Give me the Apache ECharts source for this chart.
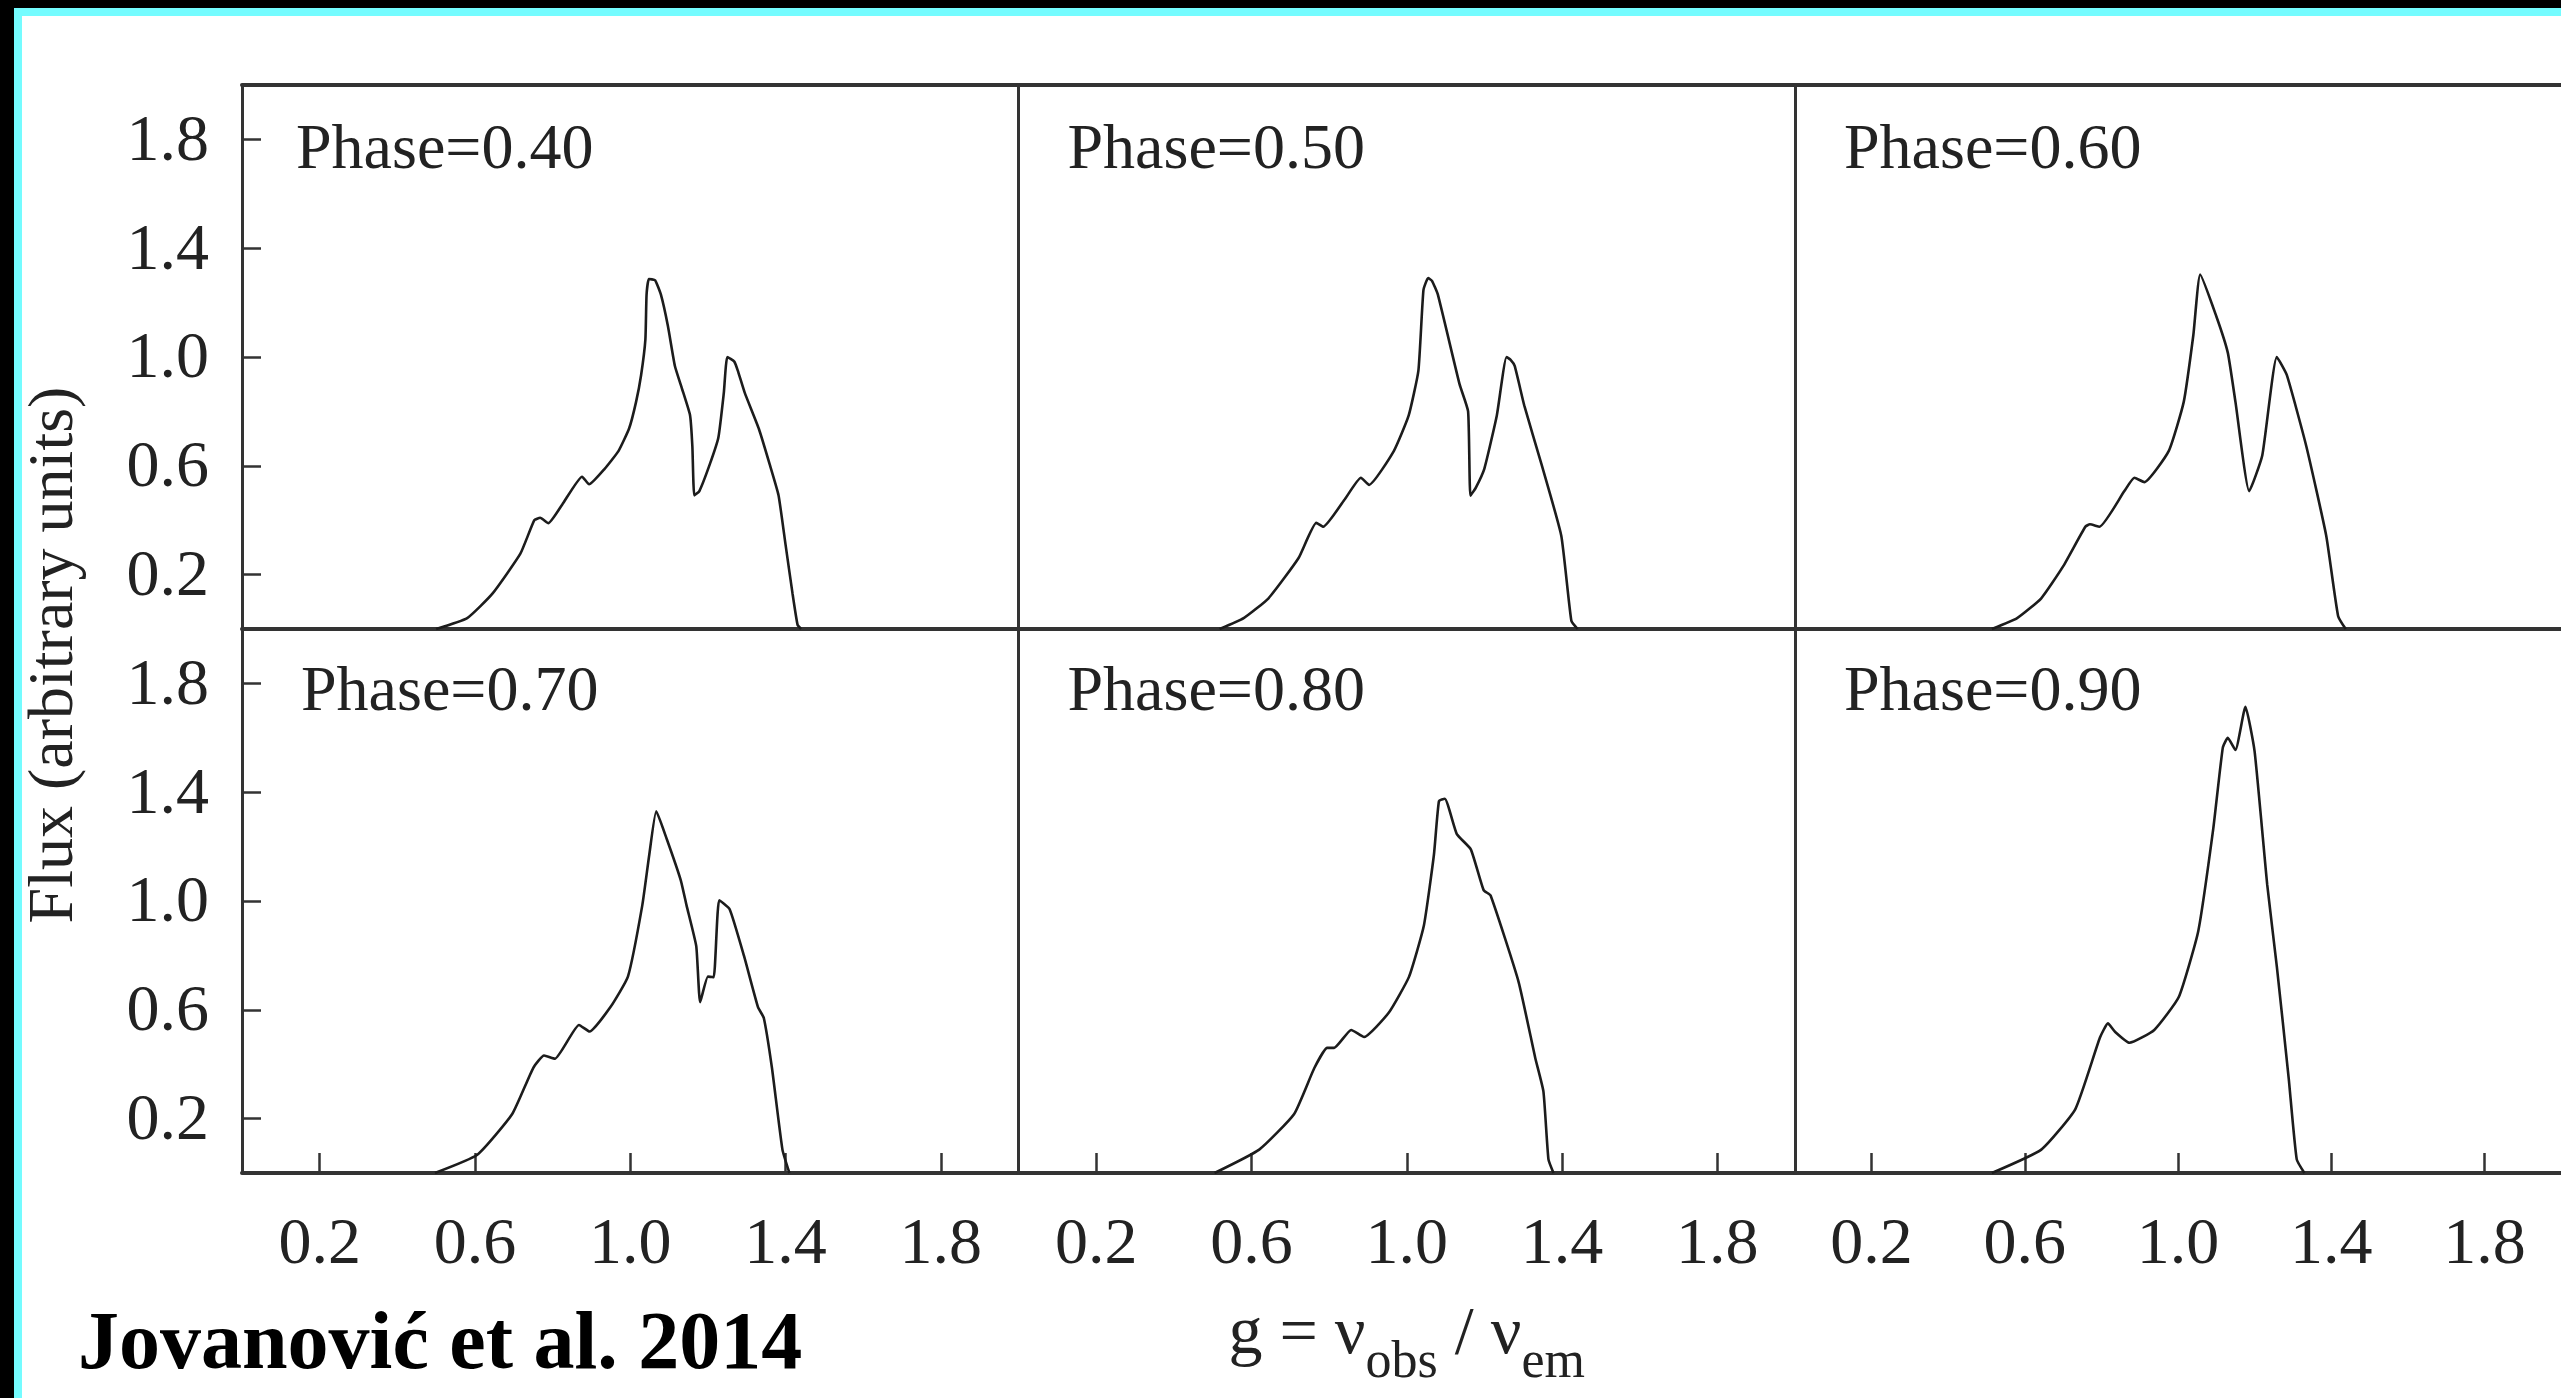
<!DOCTYPE html>
<html>
<head>
<meta charset="utf-8">
<script src="https://cdn.jsdelivr.net/npm/echarts@6/dist/echarts.min.js"></script>
<style>
  html, body { margin: 0; padding: 0; background: #fff; }
  #chart { width: 2561px; height: 1398px; }
</style>
</head>
<body>
<div id="chart"></div>
<script>
// Panel labels (orbital phase)
const phases = ['0.40', '0.50', '0.60', '0.70', '0.80', '0.90'];
// Tick values used on both axes
const tickValues = [0.2, 0.6, 1.0, 1.4, 1.8];

// Line profiles: g = nu_obs / nu_em  and flux (arbitrary units)
const g040 = [0.50, 0.58, 0.645, 0.717, 0.753, 0.768, 0.789, 0.825, 0.876, 0.894, 0.934, 0.970, 0.997, 1.015, 1.028, 1.039, 1.042, 1.048, 1.064, 1.079, 1.097, 1.115, 1.133, 1.154, 1.160, 1.165, 1.178, 1.205, 1.227, 1.241, 1.250, 1.268, 1.277, 1.295, 1.331, 1.359, 1.382, 1.400, 1.418, 1.431, 1.440];
const f040 = [0.00, 0.04, 0.130, 0.277, 0.400, 0.409, 0.389, 0.458, 0.560, 0.532, 0.589, 0.655, 0.737, 0.835, 0.934, 1.065, 1.229, 1.287, 1.282, 1.229, 1.114, 0.967, 0.885, 0.786, 0.671, 0.491, 0.507, 0.606, 0.704, 0.868, 1.000, 0.983, 0.950, 0.868, 0.737, 0.606, 0.491, 0.310, 0.130, 0.015, 0.00];

const g050 = [0.518, 0.58, 0.644, 0.721, 0.767, 0.785, 0.839, 0.882, 0.903, 0.967, 1.005, 1.030, 1.043, 1.055, 1.065, 1.080, 1.136, 1.158, 1.164, 1.178, 1.200, 1.232, 1.257, 1.267, 1.278, 1.303, 1.347, 1.398, 1.424, 1.440];
const f050 = [0.00, 0.04, 0.113, 0.260, 0.390, 0.376, 0.474, 0.556, 0.530, 0.655, 0.785, 0.950, 1.246, 1.290, 1.280, 1.230, 0.900, 0.800, 0.490, 0.520, 0.590, 0.785, 1.000, 0.990, 0.967, 0.820, 0.606, 0.343, 0.030, 0.00];

const g060 = [0.514, 0.58, 0.643, 0.700, 0.758, 0.770, 0.795, 0.860, 0.886, 0.912, 0.976, 1.015, 1.040, 1.058, 1.100, 1.130, 1.150, 1.186, 1.220, 1.258, 1.284, 1.335, 1.387, 1.418, 1.438];
const f060 = [0.00, 0.04, 0.113, 0.230, 0.376, 0.385, 0.376, 0.507, 0.556, 0.540, 0.655, 0.835, 1.080, 1.303, 1.150, 1.016, 0.835, 0.507, 0.638, 1.000, 0.934, 0.672, 0.343, 0.048, 0.00];

const g070 = [0.497, 0.606, 0.696, 0.750, 0.778, 0.806, 0.868, 0.895, 0.949, 0.994, 1.031, 1.049, 1.067, 1.094, 1.130, 1.145, 1.170, 1.180, 1.200, 1.215, 1.229, 1.256, 1.293, 1.329, 1.344, 1.365, 1.392, 1.410];
const f070 = [0.00, 0.067, 0.217, 0.386, 0.432, 0.420, 0.544, 0.520, 0.610, 0.722, 0.984, 1.170, 1.330, 1.228, 1.077, 0.984, 0.834, 0.628, 0.722, 0.720, 1.003, 0.970, 0.798, 0.610, 0.570, 0.386, 0.086, 0.00];

const g080 = [0.505, 0.620, 0.710, 0.762, 0.795, 0.813, 0.857, 0.890, 0.954, 1.006, 1.044, 1.070, 1.083, 1.098, 1.129, 1.165, 1.198, 1.216, 1.288, 1.331, 1.352, 1.365, 1.378];
const f080 = [0.00, 0.086, 0.217, 0.386, 0.460, 0.460, 0.526, 0.500, 0.590, 0.722, 0.909, 1.170, 1.368, 1.376, 1.246, 1.190, 1.040, 1.020, 0.703, 0.423, 0.300, 0.050, 0.00];

const g090 = [0.514, 0.643, 0.732, 0.796, 0.817, 0.835, 0.873, 0.938, 1.002, 1.053, 1.092, 1.117, 1.130, 1.150, 1.176, 1.200, 1.233, 1.258, 1.289, 1.310, 1.330];
const f090 = [0.00, 0.086, 0.235, 0.497, 0.550, 0.520, 0.479, 0.526, 0.647, 0.890, 1.265, 1.564, 1.600, 1.555, 1.714, 1.550, 1.059, 0.760, 0.349, 0.050, 0.00];

const profiles = [[g040, f040], [g050, f050], [g060, f060], [g070, f070], [g080, f080], [g090, f090]];

const FONT = "'Liberation Serif', 'Times New Roman', serif";
const INK = '#222';
const FRAME = '#333';

// Panel layout: 3 columns x 2 rows, the third column runs past the right edge
const LEFT = 242, COL_W = 776.5, TOP = 85, ROW_H = 544;
const labelDx = [54, 49, 49, 59, 49, 49];
const labelDy = [66, 66, 66, 64, 64, 64];

const grids = [], xAxes = [], yAxes = [], series = [], graphics = [];

phases.forEach((ph, i) => {
  const row = Math.floor(i / 3), col = i % 3;
  const left = LEFT + col * COL_W, top = TOP + row * ROW_H;
  grids.push({ left: left, top: top, width: COL_W, height: ROW_H, containLabel: false });

  const bottomRow = row === 1;
  const xa = {
    type: 'value', gridIndex: i, min: 0, max: 2, position: 'bottom',
    axisLine: { show: true, onZero: false, lineStyle: { color: FRAME, width: 4 } },
    axisTick: { show: bottomRow, inside: true, length: 20, customValues: tickValues,
                lineStyle: { color: FRAME, width: 2.5 } },
    axisLabel: { show: bottomRow, customValues: tickValues, margin: 40,
                 formatter: v => v.toFixed(1),
                 fontFamily: FONT, fontSize: 66, color: INK },
    splitLine: { show: false }
  };
  if (i === 4) {
    xa.name = '{m|g = ν}{s|obs}{m| / ν}{s|em}';
    xa.nameLocation = 'middle';
    xa.nameGap = 128;
    xa.nameTextStyle = {
      rich: {
        m: { fontFamily: FONT, fontSize: 68, lineHeight: 72, color: INK, verticalAlign: 'top' },
        s: { fontFamily: FONT, fontSize: 52, lineHeight: 54, color: INK, verticalAlign: 'top', padding: [36, 0, 0, 0] }
      }
    };
  }
  xAxes.push(xa);

  const firstCol = col === 0;
  yAxes.push({
    type: 'value', gridIndex: i, min: 0, max: 2,
    axisLine: { show: true, onZero: false, lineStyle: { color: FRAME, width: 3 } },
    axisTick: { show: firstCol, inside: true, length: 19, customValues: tickValues,
                lineStyle: { color: FRAME, width: 2.5 } },
    axisLabel: { show: firstCol, customValues: tickValues, margin: 33,
                 formatter: v => '{t|' + v.toFixed(1) + '}',
                 rich: { t: { fontFamily: FONT, fontSize: 66, color: INK, padding: [6, 0, 0, 0] } } },
    splitLine: { show: false }
  });

  const [gs, fs] = profiles[i];
  series.push({
    type: 'line', xAxisIndex: i, yAxisIndex: i,
    data: gs.map((g, k) => [g, fs[k]]),
    showSymbol: false, symbol: 'none', silent: true,
    smooth: 0.15,
    lineStyle: { color: '#1c1c1c', width: 2.6 }
  });

  graphics.push({
    type: 'text', x: left + labelDx[i], y: top + labelDy[i],
    style: { text: 'Phase=' + ph, font: "64px 'Liberation Serif'", fill: INK,
             align: 'left', verticalAlign: 'middle' }
  });
});

// Upper frame line of the top row
for (let c = 0; c < 3; c++) {
  xAxes.push({
    type: 'value', gridIndex: c, min: 0, max: 2, position: 'top',
    axisLine: { show: true, onZero: false, lineStyle: { color: FRAME, width: 4 } },
    axisTick: { show: false }, axisLabel: { show: false }, splitLine: { show: false }
  });
}

// Shared y-axis title
graphics.push({
  type: 'text', x: 55, y: 655, rotation: Math.PI / 2,
  style: { text: 'Flux (arbitrary units)', font: "64px 'Liberation Serif'", fill: INK,
           align: 'center', verticalAlign: 'middle' }
});

// Citation
graphics.push({
  type: 'text', x: 78, y: 1347,
  style: { text: 'Jovanović et al. 2014', font: "bold 82px 'Liberation Serif'",
           fill: '#000', align: 'left', verticalAlign: 'middle' }
});

// Slide frame: black edge and cyan stripe on top and left
graphics.push({ type: 'rect', shape: { x: 0, y: 0, width: 2561, height: 8 }, style: { fill: '#000' } });
graphics.push({ type: 'rect', shape: { x: 0, y: 0, width: 14, height: 1398 }, style: { fill: '#000' } });
graphics.push({ type: 'rect', shape: { x: 14, y: 8, width: 2547, height: 8 }, style: { fill: '#74fcff' } });
graphics.push({ type: 'rect', shape: { x: 14, y: 8, width: 8, height: 1390 }, style: { fill: '#74fcff' } });

const chart = echarts.init(document.getElementById('chart'), null, { renderer: 'canvas' });
chart.setOption({
  backgroundColor: '#fff',
  animation: false,
  grid: grids,
  xAxis: xAxes,
  yAxis: yAxes,
  series: series,
  graphic: graphics
});
</script>
</body>
</html>
